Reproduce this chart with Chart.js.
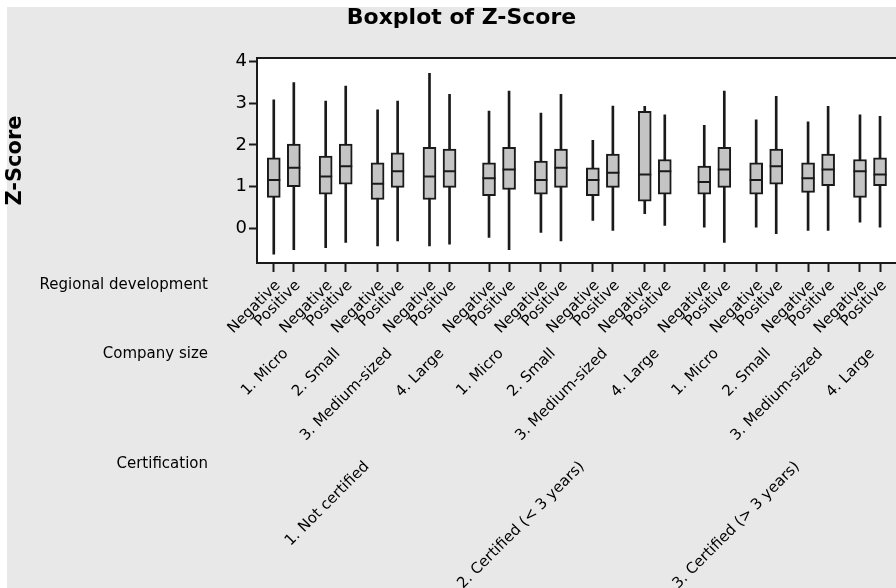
<!DOCTYPE html>
<html>
<head>
<meta charset="utf-8">
<script src="https://cdn.jsdelivr.net/npm/chart.js@4.4.1/dist/chart.umd.min.js"></script>
<style>
  html, body { margin: 0; padding: 0; background: #fff; overflow: hidden; }
  #wrap { width: 896px; height: 588px; overflow: hidden; }
</style>
</head>
<body>
<div id="wrap"><canvas id="myChart" width="923" height="588"></canvas></div>
<script>
// categories (outer to inner)
const certifications = ['1. Not certified', '2. Certified (< 3 years)', '3. Certified (> 3 years)'];
const companySizes = ['1. Micro', '2. Small', '3. Medium-sized', '4. Large'];
const regions = ['Negative', 'Positive'];
const yTicks = [0, 1, 2, 3, 4];

// box stats, one per box, in order certification > size > region
const whiskerHigh = [3.08, 3.49, 3.05, 3.41, 2.84, 3.05, 3.71, 3.21,
                     2.81, 3.29, 2.76, 3.21, 2.11, 2.93, 2.92, 2.72,
                     2.47, 3.29, 2.60, 3.16, 2.55, 2.92, 2.72, 2.68];
const q3 =          [1.69, 2.02, 1.73, 2.02, 1.57, 1.81, 1.94, 1.90,
                     1.57, 1.94, 1.61, 1.90, 1.45, 1.78, 2.80, 1.65,
                     1.49, 1.94, 1.57, 1.90, 1.57, 1.78, 1.65, 1.69];
const median =      [1.16, 1.45, 1.24, 1.49, 1.07, 1.37, 1.24, 1.37,
                     1.20, 1.41, 1.16, 1.45, 1.16, 1.33, 1.29, 1.37,
                     1.11, 1.41, 1.16, 1.49, 1.20, 1.41, 1.37, 1.29];
const q1 =          [0.74, 1.00, 0.82, 1.06, 0.69, 0.98, 0.69, 0.98,
                     0.78, 0.93, 0.82, 0.98, 0.78, 0.98, 0.65, 0.82,
                     0.82, 0.98, 0.82, 1.06, 0.86, 1.02, 0.74, 1.02];
const whiskerLow =  [-0.62, -0.51, -0.46, -0.34, -0.42, -0.30, -0.42, -0.38,
                     -0.22, -0.51, -0.10, -0.30, 0.19, -0.05, 0.35, 0.07,
                     0.03, -0.34, 0.03, -0.13, -0.05, -0.05, 0.15, 0.03];

// layout of the nested x axis
const certStep = 10.74, sizeStep = 2.59, regionStep = 1;
const xPos = [];
const xLabel = [];
certifications.forEach((c, ci) => {
  companySizes.forEach((s, si) => {
    regions.forEach((r, ri) => {
      xPos.push(ci * certStep + si * sizeStep + ri * regionStep);
      xLabel.push(r);
    });
  });
});

const FONT = 'DejaVu Sans';
const INK = '#1a1a1a';

const framePlugin = {
  id: 'frame',
  beforeDraw(chart) {
    const { ctx, chartArea: a } = chart;
    ctx.save();
    ctx.fillStyle = '#ffffff';
    ctx.fillRect(0, 0, chart.width, chart.height);
    ctx.fillStyle = '#e8e8e8';
    ctx.fillRect(7, 7, chart.width - 7, chart.height - 7);
    ctx.fillStyle = '#ffffff';
    ctx.fillRect(a.left, a.top, a.right - a.left, a.bottom - a.top);
    ctx.restore();
  },
  afterDraw(chart) {
    const { ctx, chartArea: a } = chart;
    const xs = chart.scales.x;
    ctx.save();
    // top edge of the data region
    ctx.strokeStyle = INK;
    ctx.lineWidth = 2;
    ctx.beginPath();
    ctx.moveTo(a.left - 1, a.top);
    ctx.lineTo(a.right, a.top);
    ctx.stroke();

    ctx.fillStyle = '#000';
    ctx.font = '15px "' + FONT + '"';
    // row headers
    ctx.textAlign = 'right';
    ctx.textBaseline = 'middle';
    ctx.fillText('Regional development', 208, 285);
    ctx.fillText('Company size', 208, 354);
    ctx.fillText('Certification', 208, 464);

    const slanted = (text, px, py) => {
      ctx.save();
      ctx.translate(px, py);
      ctx.rotate(-Math.PI / 4);
      ctx.textAlign = 'right';
      ctx.textBaseline = 'top';
      ctx.fillText(text, 0, 0);
      ctx.restore();
    };
    // innermost: regional development, one per box
    xPos.forEach((v, i) => slanted(xLabel[i], xs.getPixelForValue(v) - 1, 278));
    // company size, centred on each pair
    certifications.forEach((c, ci) => {
      companySizes.forEach((s, si) => {
        const mid = ci * certStep + si * sizeStep + regionStep / 2;
        slanted(s, xs.getPixelForValue(mid) - 3, 346);
      });
      const cmid = ci * certStep + (3 * sizeStep + regionStep) / 2;
      slanted(c, xs.getPixelForValue(cmid), 459);
    });
    ctx.restore();
  }
};

const ctx = document.getElementById('myChart').getContext('2d');

const boxChart = new Chart(ctx, {
  type: 'bar',
  data: {
    datasets: [
      {
        type: 'scatter',
        label: 'Median',
        data: xPos.map((x, i) => ({ x: x, y: median[i] })),
        pointStyle: 'line',
        pointRadius: 6.5,
        pointHoverRadius: 6.5,
        pointBorderWidth: 2,
        pointBorderColor: INK,
        showLine: false,
        order: 0
      },
      {
        label: 'Box',
        data: xPos.map((x, i) => ({ x: x, y: [q1[i], q3[i]] })),
        backgroundColor: '#c4c4c4',
        borderColor: INK,
        borderWidth: 2,
        borderSkipped: false,
        barThickness: 13,
        maxBarThickness: 13,
        grouped: false,
        order: 1
      },
      {
        label: 'Whisker',
        data: xPos.map((x, i) => ({ x: x, y: [whiskerLow[i], whiskerHigh[i]] })),
        backgroundColor: INK,
        borderWidth: 0,
        barThickness: 2,
        maxBarThickness: 2,
        grouped: false,
        order: 2
      }
    ]
  },
  options: {
    responsive: false,
    animation: false,
    devicePixelRatio: 1,
    layout: { padding: 0 },
    plugins: {
      legend: { display: false },
      tooltip: { enabled: false },
      title: {
        display: true,
        text: 'Boxplot of Z-Score',
        color: '#000',
        font: { family: FONT, size: 22, weight: 'bold' },
        padding: { top: 5.5, bottom: 26.1 }
      }
    },
    scales: {
      x: {
        type: 'linear',
        min: -0.837,
        max: 31.97,
        offset: false,
        afterBuildTicks: s => { s.ticks = xPos.map(v => ({ value: v })); },
        afterFit: s => { s.height = 325; },
        ticks: { display: false },
        grid: { drawOnChartArea: false, offset: false, tickLength: 9, tickWidth: 2, tickColor: INK },
        border: { display: true, color: INK, width: 2 }
      },
      y: {
        type: 'linear',
        min: -0.83,
        max: 4.08,
        afterBuildTicks: s => { s.ticks = yTicks.map(v => ({ value: v })); },
        afterFit: s => { s.width = 257; },
        ticks: { color: '#000', padding: 2, font: { family: FONT, size: 18 } },
        grid: { drawOnChartArea: false, tickLength: 8, tickWidth: 2, tickColor: INK },
        border: { display: true, color: INK, width: 2 },
        title: {
          display: true,
          text: 'Z-Score',
          color: '#000',
          font: { family: FONT, size: 21, weight: 'bold' },
          padding: { top: 3, bottom: 0 }
        }
      }
    }
  },
  plugins: [framePlugin]
});
</script>
</body>
</html>
